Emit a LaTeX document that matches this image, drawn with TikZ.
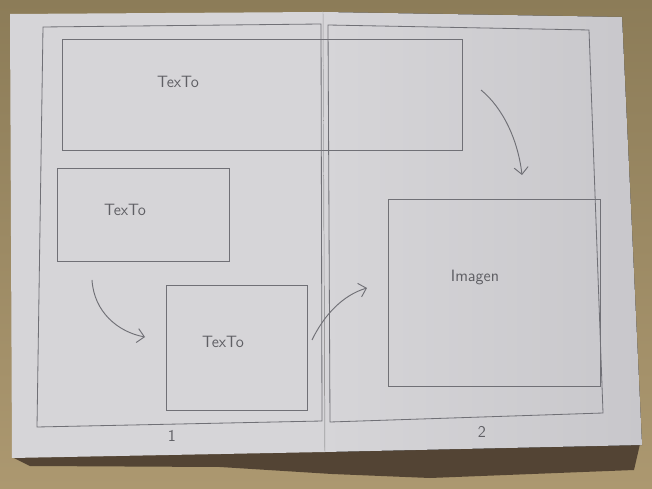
\documentclass[tikz,border=0pt]{standalone}
\usepackage{tikz}
\usetikzlibrary{arrows.meta, fit}
\definecolor{tablebrown}{RGB}{140,124,88}
\definecolor{tablelight}{RGB}{172,152,112}
\definecolor{papergrey}{RGB}{214,213,216}
\definecolor{paperdark}{RGB}{200,199,203}
\definecolor{shadowbrown}{RGB}{62,48,38}
\definecolor{pencil}{RGB}{112,112,118}
\tikzset{
  pencilline/.style={draw=pencil, line width=0.7pt},
  box/.style={rectangle, draw=pencil, line width=0.7pt, inner sep=0pt},
  hand/.style={font=\sffamily\fontsize{14}{16}\selectfont, text=pencil!85!black},
  arrow/.style={-{Straight Barb[length=6pt, width=12pt]}, draw=pencil, line width=0.8pt}
}
\begin{document}
\begin{tikzpicture}[x=0.03cm, y=-0.03cm]
  \useasboundingbox (0,0) rectangle (652,489);
  % table and shadow
  \fill[top color=tablebrown, bottom color=tablelight] (0,0) rectangle (652,489);
  \fill[shadowbrown, opacity=0.8] (12,457) -- (325,451) -- (640,444) -- (634,470) -- (430,478) -- (332,474) -- (220,467) -- (30,466) -- cycle;
  % the two pages
  \fill[papergrey] (10,14) -- (323,12) -- (325,452) -- (12,458) -- cycle;
  \fill[left color=papergrey, right color=paperdark] (323,12) -- (622,17) -- (642,445) -- (325,452) -- cycle;
  \draw[pencil!70] (323,12) -- (325,452);
  % page frames
  \draw[pencilline] (43,27) -- (321,24) -- (322,421) -- (37,427) -- cycle;
  \draw[pencilline] (328,25) -- (589,30) -- (603,413) -- (330,422) -- cycle;

  % blocks
  \node[box, fit={(62,39) (462,150)}] (topbox) {};
  \node[box, fit={(57,168) (229,261)}] (textbox) {};
  \node[box, fit={(166,285) (307,410)}] (squarebox) {};
  \node[box, fit={(388,199) (600,386)}] (imagebox) {};
  \node[hand] (toplabel) at (178,82) {TexTo};
  \node[hand] (textlabel) at (125,210) {TexTo};
  \node[hand] (squarelabel) at (223,342) {TexTo};
  \node[hand] (imagelabel) at (475,277) {Imagen};
  \node[hand] (pageone) at (172,436) {1};
  \node[hand] (pagetwo) at (482,432) {2};

  % reading arrows
  \coordinate (downstart) at (92,280);
  \coordinate (downend) at (145,337);
  \coordinate (upstart) at (312,340);
  \coordinate (upend) at (367,288);
  \coordinate (rightstart) at (481,90);
  \coordinate (rightend) at (522,175);
  \draw[arrow] (downstart) .. controls (94,312) and (118,332) .. (downend);
  \draw[arrow] (upstart) .. controls (324,315) and (343,295) .. (upend);
  \draw[arrow] (rightstart) .. controls (503,108) and (518,140) .. (rightend);
\end{tikzpicture}
\end{document}
